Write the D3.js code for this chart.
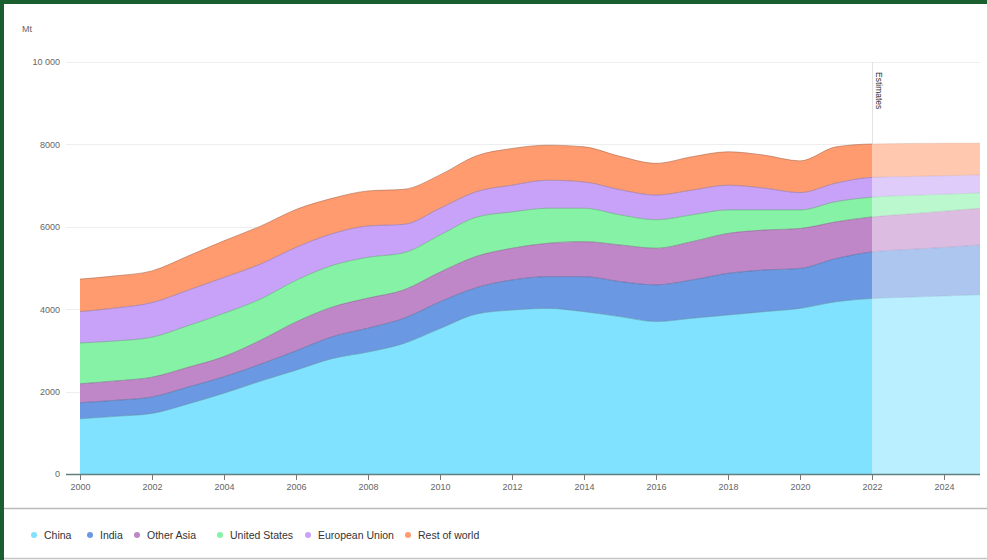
<!DOCTYPE html>
<html>
<head>
<meta charset="utf-8">
<script src="https://cdn.jsdelivr.net/npm/d3@7"></script>
<style>
  html, body { margin: 0; padding: 0; background: #fff; }
  svg { display: block; font-family: "Liberation Sans", Arial, sans-serif; }
</style>
</head>
<body>
<svg id="chart" width="987" height="560"></svg>
<script>
const years = [2000,2001,2002,2003,2004,2005,2006,2007,2008,2009,2010,2011,2012,2013,2014,2015,2016,2017,2018,2019,2020,2021,2022,2023,2024,2025];
const china = [1340,1400,1470,1700,1960,2250,2520,2800,2960,3170,3530,3880,3980,4020,3940,3820,3700,3780,3860,3940,4020,4180,4260,4290,4320,4350];
const india = [390,390,400,410,400,410,470,530,580,610,650,640,730,770,850,850,890,930,1010,1010,970,1050,1130,1160,1180,1210];
const otherAsia = [460,470,480,480,490,580,700,720,730,690,720,760,770,810,850,890,890,930,970,970,970,890,850,860,880,890];
const unitedStates = [990,970,970,1010,1050,1000,1010,1010,990,900,900,950,880,850,810,730,690,650,570,490,450,490,480,450,410,370];
const europeanUnion = [760,800,840,860,870,850,800,770,760,690,650,620,650,680,640,610,600,600,600,530,420,450,480,460,450,440];
const restOfWorld = [790,780,770,830,890,920,920,860,850,850,810,870,890,850,850,810,770,810,810,800,770,880,810,800,790,770];
const seriesNames = ["China","India","Other Asia","United States","European Union","Rest of world"];
const seriesColors = ["#80e2fe","#6a98e2","#bf86c8","#86f2a6","#c7a2f8","#ff9b6e"];
const yTicks = [0,2000,4000,6000,8000,10000];
const xTicks = [2000,2002,2004,2006,2008,2010,2012,2014,2016,2018,2020,2022,2024];
const estimateYear = 2022;
const unitLabel = "Mt";
const estimateLabel = "Estimates";

const seriesValues = [china, india, otherAsia, unitedStates, europeanUnion, restOfWorld];
const table = years.map((y, i) => {
  const row = { year: y };
  seriesNames.forEach((n, k) => row[n] = seriesValues[k][i]);
  return row;
});

const svg = d3.select("#chart");
const W = 987, H = 560;
const x = d3.scaleLinear().domain([2000, 2025]).range([80, 980]);
const y = d3.scaleLinear().domain([0, 10000]).range([474, 62]);

// frame
svg.append("rect").attr("x",0).attr("y",0).attr("width",W).attr("height",H).attr("fill","#fff");
svg.append("rect").attr("x",0).attr("y",0).attr("width",W).attr("height",4).attr("fill","#1b5e30");
svg.append("rect").attr("x",0).attr("y",0).attr("width",4).attr("height",H).attr("fill","#1b5e30");
svg.append("line").attr("x1",4).attr("x2",W).attr("y1",508.5).attr("y2",508.5).attr("stroke","#b9b9b9").attr("stroke-width",1.5);
svg.append("line").attr("x1",4).attr("x2",W).attr("y1",558.5).attr("y2",558.5).attr("stroke","#c4c4c4").attr("stroke-width",1.5);

// unit label
svg.append("text").attr("x",22).attr("y",32).attr("font-size",9).attr("fill","#666").text(unitLabel);

// gridlines
svg.append("g").selectAll("line").data(yTicks.filter(d => d > 0)).join("line")
  .attr("x1",66).attr("x2",980).attr("y1",d => Math.round(y(d))+0.5).attr("y2",d => Math.round(y(d))+0.5)
  .attr("stroke","#eeeeee").attr("stroke-width",1);

// estimate line (behind areas)
svg.append("line").attr("x1", x(estimateYear)+0.5).attr("x2", x(estimateYear)+0.5)
  .attr("y1", 62).attr("y2", 474).attr("stroke","#e3e3e3").attr("stroke-width",1);

// y axis labels
const yAxis = d3.axisLeft(y).tickValues(yTicks).tickSize(0).tickPadding(0)
  .tickFormat(v => v >= 10000 ? d3.format(",")(v).replace(/,/g, " ") : String(v));
const gy = svg.append("g").attr("transform","translate(60,0)").call(yAxis);
gy.select(".domain").remove();
gy.selectAll("text").attr("font-size",9).attr("fill","#666").attr("font-family","Liberation Sans, Arial, sans-serif");

// stacked areas
const stack = d3.stack().keys(seriesNames);
const layers = stack(table);
const area = d3.area()
  .x(d => x(d.data.year))
  .y0(d => y(d[0]))
  .y1(d => y(d[1]))
  .curve(d3.curveMonotoneX);
const line = d3.line()
  .x(d => x(d.data.year))
  .y(d => y(d[1]))
  .curve(d3.curveMonotoneX);

const defs = svg.append("defs");
defs.append("clipPath").attr("id","clipHist").append("rect")
  .attr("x", x(2000)).attr("y", 0).attr("width", x(estimateYear) - x(2000)).attr("height", 480);
defs.append("clipPath").attr("id","clipEst").append("rect")
  .attr("x", x(estimateYear)).attr("y", 0).attr("width", x(2025) - x(estimateYear)).attr("height", 480);

const gHist = svg.append("g").attr("clip-path","url(#clipHist)");
gHist.selectAll("path.area").data(layers).join("path")
  .attr("class","area").attr("d", area).attr("fill", (d,i) => seriesColors[i]);
gHist.selectAll("path.edge").data(layers).join("path")
  .attr("class","edge").attr("d", line).attr("fill","none")
  .attr("stroke", (d,i) => d3.color(seriesColors[i]).darker(1.2)).attr("stroke-opacity",0.55).attr("stroke-width",1);

const light = c => d3.interpolateRgb(c, "#ffffff")(0.45);
const gEst = svg.append("g").attr("clip-path","url(#clipEst)");
gEst.selectAll("path.area").data(layers).join("path")
  .attr("class","area").attr("d", area).attr("fill", (d,i) => light(seriesColors[i]));
gEst.selectAll("path.edge").data(layers).join("path")
  .attr("class","edge").attr("d", line).attr("fill","none")
  .attr("stroke", (d,i) => d3.color(seriesColors[i]).darker(1.2)).attr("stroke-opacity",0.18).attr("stroke-width",1);

// estimate label
svg.append("text")
  .attr("transform", `translate(${x(estimateYear)+4},72) rotate(90)`)
  .attr("font-size",8.5).attr("fill","#333").text(estimateLabel);

// x axis
const xAxis = d3.axisBottom(x).tickValues(xTicks).tickFormat(d3.format("d")).tickSize(6).tickPadding(4);
const gx = svg.append("g").attr("transform","translate(0,474)").call(xAxis);
gx.select(".domain").attr("d", `M${x(2000)-14},0.5H${x(2025)}`).attr("stroke","#5f7f80").attr("stroke-width",1.5);
gx.selectAll(".tick line").attr("stroke","#777");
gx.selectAll("text").attr("font-size",9).attr("fill","#666").attr("font-family","Liberation Sans, Arial, sans-serif");

// legend
const legendX = [34, 90, 137, 220, 308, 408];
const lg = svg.append("g").selectAll("g").data(seriesNames).join("g")
  .attr("transform", (d,i) => `translate(${legendX[i]},535)`);
lg.append("circle").attr("r",3).attr("fill",(d,i) => seriesColors[i]);
lg.append("text").attr("x",10).attr("y",4).attr("font-size",10.5).attr("fill","#333").text(d => d);
</script>
</body>
</html>
